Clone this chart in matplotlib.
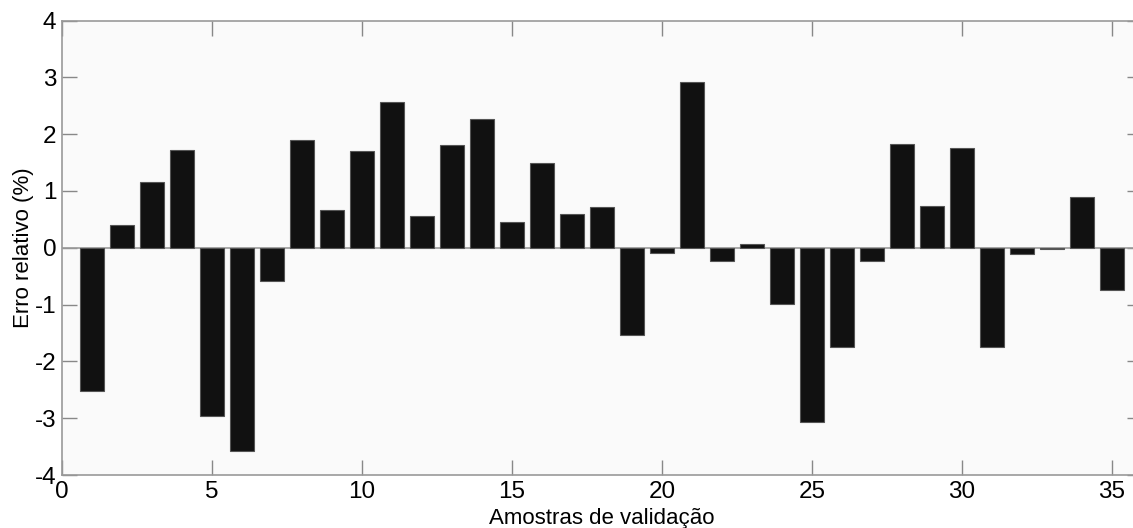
import matplotlib
matplotlib.use("Agg")
import matplotlib.pyplot as plt
import numpy as np

samples = list(range(1, 36))
errors = [-2.53, 0.40, 1.15, 1.72, -2.96, -3.58, -0.59, 1.89, 0.67, 1.70,
          2.56, 0.56, 1.81, 2.26, 0.46, 1.49, 0.60, 0.71, -1.54, -0.10,
          2.92, -0.23, 0.07, -0.99, -3.06, -1.74, -0.23, 1.82, 0.74, 1.75,
          -1.74, -0.11, -0.02, 0.90, -0.74]
xticks = [0, 5, 10, 15, 20, 25, 30, 35]
yticks = [-4, -3, -2, -1, 0, 1, 2, 3, 4]

plt.rcParams['font.family'] = ['Liberation Sans', 'DejaVu Sans']
plt.rcParams['axes.unicode_minus'] = False

fig = plt.figure(figsize=(11.33, 5.28), dpi=100)
ax = fig.add_axes([62/1133, 53/528, 1080/1133, 454.5/528])
ax.set_facecolor('#fafafa')

ax.bar(samples, errors, width=0.8, color='#111111', edgecolor='#555555', linewidth=0.8, zorder=3)
ax.axhline(0, color='#9a9a9a', linewidth=1.2, zorder=2)

ax.set_xlim(0, 36)
ax.set_ylim(-4, 4)
ax.set_xticks(xticks)
ax.set_yticks(yticks)
ax.tick_params(direction='in', length=11, width=1, color='#888888', top=True, right=True,
               labelsize=17.5, pad=4)
for s in ax.spines.values():
    s.set_color('#999999')
    s.set_linewidth(1.2)

ax.set_xlabel('Amostras de validação', fontsize=16)
ax.set_ylabel('Erro relativo (%)', fontsize=16)
ax.xaxis.set_label_coords(0.5, -0.0726)
ax.yaxis.set_label_coords(-0.0259, 0.5)

fig.savefig('out.png', dpi=100)
